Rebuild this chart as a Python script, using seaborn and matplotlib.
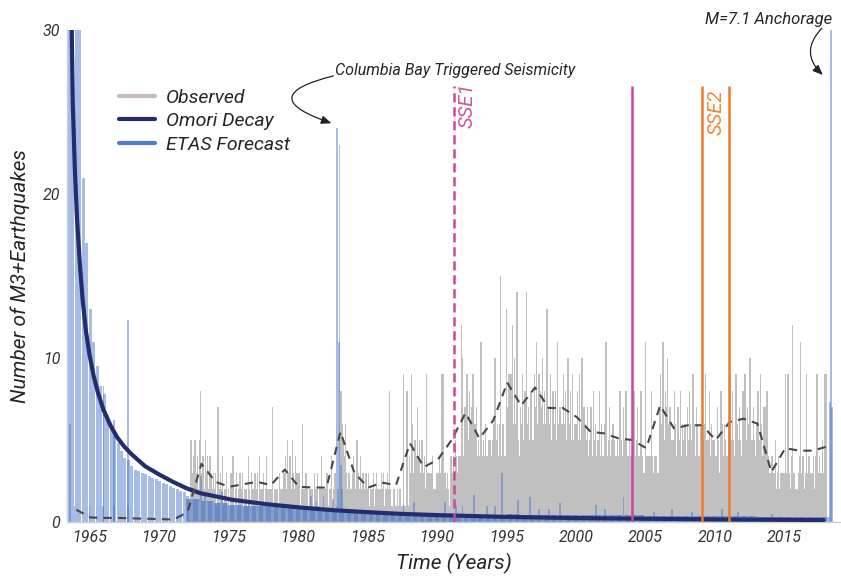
import numpy as np
import pandas as pd
import matplotlib
matplotlib.use("Agg")
import matplotlib.pyplot as plt
from matplotlib.lines import Line2D
import seaborn as sns

# ------------------------------------------------------------------ data
# Observed monthly M3+ counts (gray), first row starts April 1972
obs_first_year = 1972
obs_first_month = 3
obs_monthly = [
    [5, 5, 3, 4, 5, 3, 4, 2, 5],
    [8, 3, 4, 2, 5, 3, 4, 2, 4, 3, 2, 3],
    [2, 3, 1, 7, 2, 3, 2, 4, 1, 2, 3, 1],
    [2, 1, 3, 2, 4, 1, 2, 3, 1, 2, 3, 2],
    [3, 1, 2, 2, 1, 4, 2, 1, 3, 2, 2, 3],
    [2, 3, 1, 4, 2, 2, 3, 1, 2, 4, 2, 2],
    [2, 2, 7, 1, 2, 1, 2, 1, 3, 2, 2, 2],
    [3, 4, 2, 5, 3, 4, 2, 5, 3, 2, 4, 3],
    [2, 3, 1, 2, 6, 2, 1, 3, 2, 1, 2, 2],
    [2, 1, 3, 2, 2, 3, 1, 2, 4, 2, 2, 2],
    [2, 3, 1, 2, 2, 4, 1, 2, 3, 1, 2, 2],
    [23, 8, 6, 5, 4, 6, 3, 2, 3, 2, 2, 3],
    [4, 3, 2, 5, 3, 2, 4, 2, 3, 2, 3, 3],
    [2, 3, 1, 2, 2, 3, 1, 2, 3, 2, 2, 2],
    [3, 2, 3, 1, 2, 3, 2, 8, 2, 1, 1, 2],
    [1, 1, 2, 1, 2, 1, 1, 9, 1, 1, 8, 1],
    [4, 3, 9, 6, 3, 5, 4, 7, 4, 5, 3, 5],
    [3, 4, 2, 9, 3, 3, 3, 3, 4, 2, 2, 2],
    [3, 3, 4, 3, 9, 9, 3, 3, 2, 3, 2, 1],
    [4, 3, 4, 3, 5, 4, 3, 4, 4, 12, 10, 4],
    [7, 6, 9, 5, 8, 6, 7, 9, 6, 6, 7, 4],
    [5, 4, 11, 4, 5, 4, 6, 4, 4, 5, 5, 4],
    [5, 6, 10, 5, 6, 4, 6, 15, 4, 6, 4, 4],
    [13, 7, 9, 7, 9, 12, 6, 10, 6, 14, 5, 4],
    [7, 6, 9, 5, 8, 14, 6, 7, 5, 8, 5, 5],
    [9, 7, 11, 6, 9, 8, 7, 10, 6, 8, 6, 13],
    [7, 6, 9, 5, 8, 6, 8, 5, 11, 6, 7, 5],
    [6, 9, 6, 8, 5, 10, 6, 8, 5, 9, 5, 6],
    [6, 8, 5, 9, 5, 10, 5, 7, 6, 5, 7, 4],
    [5, 7, 4, 8, 5, 6, 4, 5, 8, 4, 6, 4],
    [4, 6, 11, 4, 5, 7, 4, 5, 6, 5, 4, 4],
    [5, 4, 8, 5, 4, 7, 5, 8, 4, 4, 5, 4],
    [4, 6, 8, 4, 5, 7, 4, 4, 8, 4, 3, 3],
    [11, 4, 4, 3, 4, 8, 4, 3, 4, 4, 3, 3],
    [7, 9, 6, 11, 5, 8, 7, 10, 6, 7, 5, 5],
    [5, 8, 6, 4, 7, 5, 8, 4, 6, 5, 6, 4],
    [7, 5, 8, 6, 5, 9, 6, 4, 7, 6, 4, 4],
    [6, 8, 5, 6, 9, 5, 5, 8, 4, 6, 5, 5],
    [4, 4, 7, 5, 3, 8, 6, 4, 6, 5, 4, 4],
    [6, 9, 5, 8, 5, 4, 9, 6, 5, 7, 5, 4],
    [8, 6, 9, 5, 7, 6, 10, 5, 5, 7, 5, 4],
    [6, 8, 5, 9, 6, 4, 7, 7, 5, 8, 4, 3],
    [3, 4, 2, 3, 5, 2, 3, 4, 2, 3, 3, 3],
    [3, 9, 3, 9, 3, 2, 4, 12, 3, 2, 2, 2],
    [3, 4, 11, 3, 4, 2, 3, 9, 3, 4, 3, 3],
    [3, 4, 2, 4, 9, 3, 4, 3, 3, 5, 3, 9],
    [9],
]

# Early ETAS forecast, quarterly bins, first centred on 1963.55
early_start = 1963.55
early_counts = [31, 31, 31, 31, 21, 17, 13, 11, 9.5, 8.3,
                7.8, 6.5, 5.8, 5.3, 4.8, 4.3, 3.9, 3.8, 3.4, 3.2,
                3.1, 3.0, 2.9, 2.8, 2.7, 2.6, 2.5, 2.4, 2.3, 2.2,
                2.1, 2.0, 1.9, 1.8, 1.6]
early_spike_t = [1966.0, 1966.75, 1967.75]
early_spike_v = [8.3, 6.2, 12.3]

# ETAS monthly forecast: yearly background level + individual months
etas_years = list(range(1963, 2019))
etas_base = [0, 0, 0, 0, 0, 0, 0, 0, 0, 1.4,
             1.3, 1.15, 1.05, 1.0, 0.95, 0.9, 0.85, 0.8, 0.75, 0.7,
             0.8, 0.7, 0.65, 0.6, 0.55, 0.55, 0.5, 0.5, 0.45, 0.5,
             0.45, 0.45, 0.5, 0.45, 0.45, 0.42, 0.4, 0.4, 0.4, 0.4,
             0.4, 0.4, 0.38, 0.38, 0.37, 0.36, 0.36, 0.35, 0.35, 0.34,
             0.33, 0.33, 0.32, 0.32, 0.32, 0.3]
etas_spike_t = [1963.58, 1963.92, 1965.0, 1966.0, 1966.75, 1967.75,
                1973.0, 1973.33, 1974.5, 1976.5, 1978.58, 1980.92, 1981.33,
                1981.83, 1982.5, 1982.83, 1982.92, 1983.08, 1983.17,
                1987.58, 1988.33, 1990.58, 1991.33, 1991.83, 1992.67,
                1993.58, 1994.17, 1994.67, 1995.83, 1996.67, 1997.33,
                1998.08, 1998.83, 2001.42, 2002.08, 2003.42, 2004.08,
                2005.58, 2006.92, 2008.33, 2010.5, 2011.67, 2014.08,
                2018.25, 2018.33, 2018.42]
etas_spike_v = [6.0, 1.0, 1.0, 1.0, 1.0, 1.0,
                2.8, 1.85, 1.85, 1.2, 1.0, 1.6, 1.3,
                1.6, 1.4, 24.0, 11.0, 3.5, 2.0,
                1.1, 1.2, 1.25, 1.0, 0.95, 1.65,
                1.0, 0.95, 3.0, 1.35, 1.55, 0.8,
                0.8, 1.15, 1.05, 0.8, 1.5, 0.75,
                0.6, 0.8, 0.6, 0.8, 0.6, 0.5,
                7.3, 30.0, 7.0]

# Omori decay curve
omori_t = [1963.72, 1963.8, 1963.95, 1964.1, 1964.3, 1964.5, 1964.75, 1965.0,
           1965.3, 1965.6, 1966.0, 1966.5, 1967.0, 1967.5, 1968.0, 1969.0,
           1970.0, 1971.0, 1972.0, 1973.0, 1975.3, 1977.8, 1980.2, 1982.5,
           1985.0, 1987.3, 1990.0, 1995.0, 2000.0, 2005.0, 2010.0, 2016.1,
           2017.8]
omori_v = [30, 25.4, 21.4, 18.5, 15.8, 13.6, 11.6, 10.2,
           8.9, 7.9, 6.85, 5.9, 5.15, 4.6, 4.15, 3.4,
           2.9, 2.45, 2.05, 1.75, 1.35, 1.08, 0.88, 0.72,
           0.6, 0.5, 0.42, 0.31, 0.24, 0.2, 0.16, 0.13,
           0.12]

# Yearly mean of observed counts (dashed)
mean_years = list(range(1964, 2019))
mean_vals = [0.75, 0.28, 0.25, 0.25, 0.22, 0.2, 0.18, 0.15, 0.6,
             3.55, 2.45, 2.15, 2.3, 2.45, 2.25, 3.2, 2.15, 2.1, 2.1,
             5.5, 3.0, 2.1, 2.4, 2.25, 4.8, 3.35, 3.8, 5.0, 6.65,
             5.1, 6.2, 8.5, 7.1, 8.2, 6.95, 6.95, 6.4, 5.5, 5.4,
             5.1, 5.0, 4.5, 7.1, 5.7, 5.9, 5.9, 5.0, 6.1, 6.3,
             6.0, 3.05, 4.5, 4.35, 4.35, 4.6]

# Slow slip event markers
sse_years = [1991.22, 2004.03, 2009.06, 2011.0]
sse_top = 26.6

# ------------------------------------------------------------------ build tables
obs_t, obs_v = [], []
for i, row in enumerate(obs_monthly):
    m0 = obs_first_month if i == 0 else 0
    for j, v in enumerate(row):
        obs_t.append(obs_first_year + i + (m0 + j) / 12.0)
        obs_v.append(v)
obs_df = pd.DataFrame({"t": obs_t, "n": obs_v})

early_t = early_start + 0.25 * np.arange(len(early_counts))

etas_t, etas_v = [], []
for y, b in zip(etas_years, etas_base):
    for m in range(12):
        t = y + m / 12.0
        if 1963.5 <= t <= 2018.45:
            etas_t.append(t)
            etas_v.append(b)
etas_t = np.array(etas_t)
etas_v = np.array(etas_v, dtype=float)
for t, v in zip(etas_spike_t, etas_spike_v):
    k = int(np.argmin(np.abs(etas_t - t)))
    etas_v[k] = max(etas_v[k], v)

mean_df = pd.DataFrame({"t": np.array(mean_years) + 0.05, "n": mean_vals})
omori_df = pd.DataFrame({"t": omori_t, "n": omori_v})

# ------------------------------------------------------------------ style
sns.set_style("white")
plt.rcParams["font.family"] = ["Roboto", "DejaVu Sans"]
plt.rcParams["font.weight"] = "normal"
plt.rcParams["font.style"] = "italic"

TXT = "#262626"
OBS_C = "#c0c0c0"
OBS_LEG = "#c9b9c1"
OMORI_C = "#232c6c"
ETAS_C = "#4f7bcb"
MAG_C = "#cc479d"
ORG_C = "#f07a26"

fig = plt.figure(figsize=(8.41, 5.77), dpi=100)
ax = fig.add_axes([67 / 841, 1 - 522 / 577, 774 / 841, 492 / 577])

ax.bar(obs_df["t"], obs_df["n"], width=1.2 / 12, color=OBS_C, linewidth=0,
       antialiased=False, zorder=1)
ax.bar(early_t, early_counts, width=0.215, color=ETAS_C, alpha=0.5, linewidth=0, zorder=2)
ax.bar(early_spike_t, early_spike_v, width=0.12, color=ETAS_C, alpha=0.5, linewidth=0, zorder=2)
ax.bar(etas_t, etas_v, width=1.6 / 12, color=ETAS_C, alpha=0.5, linewidth=0, zorder=2)

sns.lineplot(data=omori_df, x="t", y="n", ax=ax, color=OMORI_C, lw=3, zorder=4)
sns.lineplot(data=mean_df, x="t", y="n", ax=ax, color="#474747", lw=1.5,
             linestyle=(0, (4, 3)), zorder=5)

ax.vlines(sse_years[0], 0, sse_top, colors=MAG_C, lw=1.8, linestyles=(0, (3.7, 1.9)), zorder=6)
ax.vlines(sse_years[1], 0, sse_top, colors=MAG_C, lw=1.8, zorder=6)
ax.vlines(sse_years[2:], 0, sse_top, colors=ORG_C, lw=1.8, zorder=6)

ax.text(1992.19, 26.77, "SSE1", rotation=90, ha="center", va="top",
        color="#d2559f", fontsize=14.5)
ax.text(2010.04, 26.34, "SSE2", rotation=90, ha="center", va="top",
        color="#f2873a", fontsize=14.5)

ax.text(1982.66, 27.56, "Columbia Bay Triggered Seismicity", ha="left", va="center",
        fontsize=11.5, color=TXT)
ax.annotate("", xy=(1982.4, 24.32), xytext=(1982.54, 27.2),
            arrowprops=dict(arrowstyle="-|>,head_length=0.6,head_width=0.25",
                            connectionstyle="arc3,rad=1.7", color="#222222",
                            lw=0.9, shrinkA=0, shrinkB=0))
ax.text(2018.42, 30.67, "M=7.1 Anchorage", ha="right", va="center",
        fontsize=12, color=TXT, clip_on=False)
ax.annotate("", xy=(2017.75, 27.26), xytext=(2017.68, 30.1),
            arrowprops=dict(arrowstyle="-|>,head_length=0.6,head_width=0.25",
                            connectionstyle="arc3,rad=0.5", color="#222222",
                            lw=0.9, shrinkA=0, shrinkB=0),
            annotation_clip=False)

ax.set_xlim(1963.38, 2019.06)
ax.set_ylim(0, 30)
ax.set_xticks([1965, 1970, 1975, 1980, 1985, 1990, 1995, 2000, 2005, 2010, 2015])
ax.set_yticks([0, 10, 20, 30])
ax.tick_params(axis="both", length=0, labelsize=11.5, colors="#333333")
ax.tick_params(axis="x", pad=6)
ax.tick_params(axis="y", pad=5)

ax.set_xlabel("Time (Years)", fontsize=15, color=TXT)
ax.set_ylabel("Number of M3+Earthquakes", fontsize=15, color=TXT)
ax.xaxis.set_label_coords(0.5, -0.063)
ax.yaxis.set_label_coords(-0.048, 0.5)

sns.despine(ax=ax)
for s in ("left", "bottom"):
    ax.spines[s].set_color("#cfcfcf")
    ax.spines[s].set_linewidth(1.0)

handles = [Line2D([], [], color=OBS_LEG, lw=3),
           Line2D([], [], color=OMORI_C, lw=3),
           Line2D([], [], color=ETAS_C, lw=3)]
leg = ax.legend(handles, ["Observed", "Omori Decay", "ETAS Forecast"],
                loc="upper left", bbox_to_anchor=(0.0672, 0.880), frameon=False,
                handlelength=1.86, handletextpad=0.57, labelspacing=0.27,
                borderpad=0, borderaxespad=0,
                prop={"size": 14, "style": "italic"})
for t in leg.get_texts():
    t.set_color(TXT)

fig.savefig("out.png", dpi=100)
